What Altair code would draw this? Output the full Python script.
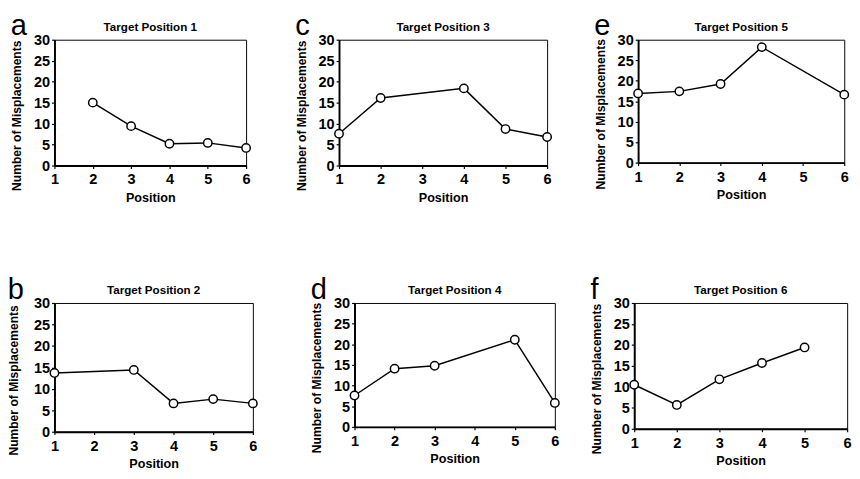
import altair as alt
import pandas as pd

# ---- data ----
pos_a = [2, 3, 4, 5, 6]
mis_a = [15.0, 9.4, 5.2, 5.4, 4.2]
pos_b = [1, 3, 4, 5, 6]
mis_b = [13.7, 14.4, 6.6, 7.6, 6.6]
pos_c = [1, 2, 4, 5, 6]
mis_c = [7.6, 16.1, 18.4, 8.7, 6.8]
pos_d = [1, 2, 3, 5, 6]
mis_d = [7.6, 14.1, 14.8, 21.1, 5.8]
pos_e = [1, 2, 3, 4, 6]
mis_e = [16.9, 17.4, 19.2, 28.2, 16.6]
pos_f = [1, 2, 3, 4, 5]
mis_f = [10.5, 5.7, 11.8, 15.7, 19.4]

x_ticks = [1, 2, 3, 4, 5, 6]
y_ticks = [0, 5, 10, 15, 20, 25, 30]

FONT = "Liberation Sans"


def panel(letter, title, xs, ys, w, h, ytp=10):
    df = pd.DataFrame({"Position": xs, "Misplacements": ys})
    base = alt.Chart(df).encode(
        x=alt.X("Position:Q",
                scale=alt.Scale(domain=[1, 6], nice=False, zero=False),
                axis=alt.Axis(values=x_ticks, title="Position", format="d", grid=False,
                              titleFontSize=13, labelFlush=False, labelPadding=4,
                              titlePadding=5)),
        y=alt.Y("Misplacements:Q",
                scale=alt.Scale(domain=[0, 30], nice=False),
                axis=alt.Axis(values=y_ticks, title="Number of Misplacements", grid=False,
                              titleFontSize=12.5, labelPadding=2, titlePadding=ytp,
                              titleY=h / 2 + 13)),
    )
    line = base.mark_line(color="black", strokeWidth=1.5)
    pts = base.mark_point(shape="circle", filled=True, fill="white", stroke="black",
                          strokeWidth=1.5, size=75, opacity=1)
    layer = alt.layer(line, pts).properties(
        width=w, height=h,
        title=alt.TitleParams(title, anchor="middle", frame="group", font=FONT,
                              fontSize=12, fontWeight="bold", color="black", offset=-1),
    )
    return alt.vconcat(layer, title=alt.TitleParams(
        letter, anchor="start", frame="bounds", font=FONT, fontSize=30,
        fontWeight="normal", color="black", offset=-21))


top = alt.hconcat(
    alt.hconcat(
        panel("a", "Target Position 1", pos_a, mis_a, 198, 130),
        panel("c", "Target Position 3", pos_c, mis_c, 215, 130),
        spacing=42,
    ),
    panel("e", "Target Position 5", pos_e, mis_e, 213, 127),
    spacing=40,
)
bottom = alt.hconcat(
    alt.hconcat(
        panel("b", "Target Position 2", pos_b, mis_b, 205, 133, ytp=13),
        panel("d", "Target Position 4", pos_d, mis_d, 207, 128),
        spacing=51,
    ),
    panel("f", "Target Position 6", pos_f, mis_f, 220, 130),
    spacing=28,
)

chart = alt.vconcat(top, bottom, spacing=72).properties(
    padding={"left": -1, "top": -4, "right": 0, "bottom": -2},
    background="white",
).configure_view(
    stroke="black", strokeWidth=1
).configure_axis(
    labelFont=FONT, labelFontSize=15, labelFontWeight="bold", labelColor="black",
    titleFont=FONT, titleFontSize=12, titleFontWeight="bold", titleColor="black",
    domainColor="black", domainWidth=2, tickColor="black", tickSize=3,
    tickWidth=1.2, grid=False,
)

chart.save("out.html", embed_options={"renderer": "svg", "actions": False})
